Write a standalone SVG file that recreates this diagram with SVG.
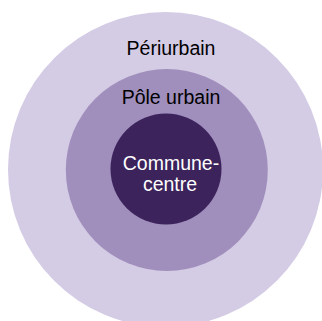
<svg xmlns="http://www.w3.org/2000/svg" width="322" height="321" viewBox="0 0 322 321">
<style>
text{font-family:"Liberation Sans",Arial,sans-serif;font-size:19.5px;text-anchor:middle}
.dark{fill:#000}
.light{fill:#fff}
</style>
<rect width="322" height="321" fill="#fff"/>
<g id="periurbain">
<circle cx="165.5" cy="169.5" r="157.5" fill="#d4cbe5"/>
<text class="dark" x="171" y="55">Périurbain</text>
</g>
<g id="pole-urbain">
<circle cx="166.8" cy="170" r="101" fill="#a08fbc"/>
<text class="dark" x="171" y="104">Pôle urbain</text>
</g>
<g id="commune-centre">
<circle cx="166" cy="169" r="55.5" fill="#3c235c"/>
<text class="light" x="171" y="170">Commune-</text>
<text class="light" x="170" y="191">centre</text>
</g>
<g id="connectors"/>
</svg>
